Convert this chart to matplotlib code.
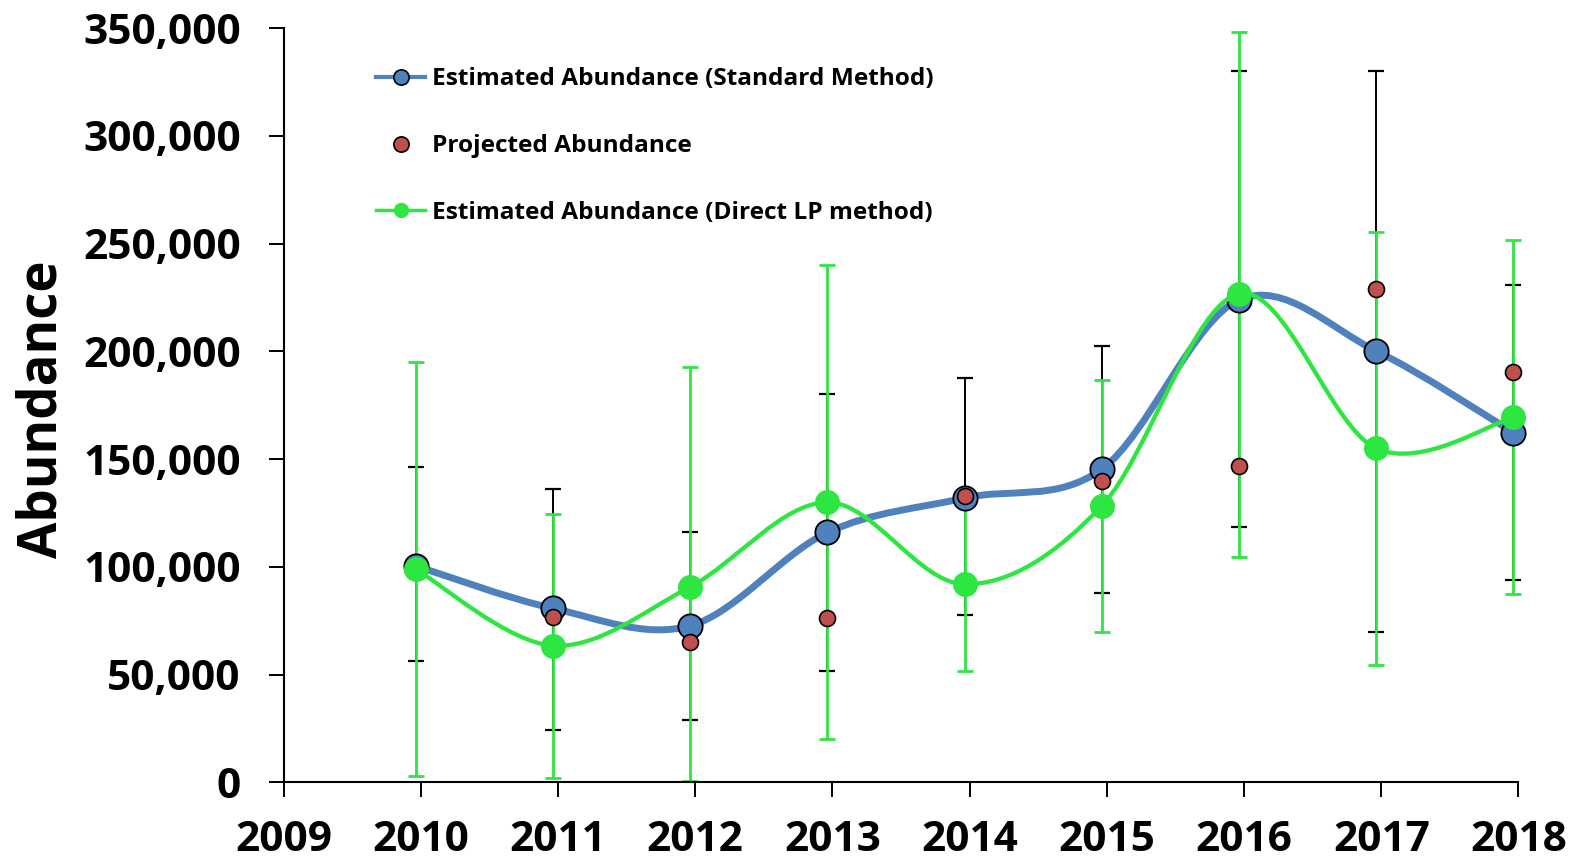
import numpy as np
import matplotlib
matplotlib.use("Agg")
import matplotlib.pyplot as plt
import matplotlib.transforms as mtransforms
from matplotlib.path import Path
from matplotlib.patches import PathPatch
from matplotlib.lines import Line2D
from matplotlib.ticker import FuncFormatter

plt.rcParams['font.family'] = ['Open Sans', 'DejaVu Sans']
plt.rcParams['font.weight'] = 'bold'

# data
years = [2010, 2011, 2012, 2013, 2014, 2015, 2016, 2017, 2018]
std_est = [100500, 80800, 72700, 116000, 132000, 145400, 224000, 200200, 162400]
std_hi = [146200, 136400, 116300, 180200, 187500, 202600, 330000, 330000, 231000]
std_lo = [56400, 24500, 29100, 51900, 77700, 87700, 118500, 70000, 93800]

proj_years = [2011, 2012, 2013, 2014, 2015, 2016, 2017, 2018]
proj_est = [76900, 65000, 76400, 133000, 139800, 147000, 229100, 190400]

lp_est = [99000, 63500, 90800, 130000, 92000, 128400, 226800, 155000, 169400]
lp_hi = [195300, 124700, 192600, 240000, 131000, 186800, 348200, 255300, 251600]
lp_lo = [3000, 1900, 500, 20000, 51700, 69700, 104500, 54600, 87300]

x_ticks = list(range(2009, 2019))
y_ticks = list(range(0, 350001, 50000))

BLUE = '#4F81BD'
RED = '#C0504D'
GREEN = '#2EE641'


def smooth_path(xs, ys):
    """Excel-like smoothed line: Catmull-Rom segments as cubic beziers"""
    pts = np.column_stack([xs, ys]).astype(float)
    n = len(pts)
    verts = [pts[0]]
    codes = [Path.MOVETO]
    for i in range(n - 1):
        p0 = pts[i - 1] if i > 0 else pts[i]
        p1 = pts[i]
        p2 = pts[i + 1]
        p3 = pts[i + 2] if i + 2 < n else pts[i + 1]
        c1 = p1 + (p2 - p0) / 6.0
        c2 = p2 - (p3 - p1) / 6.0
        verts += [c1, c2, p2]
        codes += [Path.CURVE4] * 3
    return Path(verts, codes)


fig = plt.figure(figsize=(15.77, 8.63), dpi=100)
ax = fig.add_axes([0.1798, 0.0933, 0.7831, 0.874])

# the data marks sit a few pixels left of the ticks, as in the original
shift = ax.transData + mtransforms.ScaledTranslation(-0.05, 0, fig.dpi_scale_trans)

# error bars
std_err = [np.array(std_est) - np.array(std_lo), np.array(std_hi) - np.array(std_est)]
eb1 = ax.errorbar(years, std_est, yerr=std_err, fmt='none', ecolor='black',
                  elinewidth=1.4, capsize=6, capthick=1.6, zorder=1, clip_on=False)
lp_err = [np.array(lp_est) - np.array(lp_lo), np.array(lp_hi) - np.array(lp_est)]
eb2 = ax.errorbar(years, lp_est, yerr=lp_err, fmt='none', ecolor=GREEN,
                  elinewidth=2.0, capsize=6, capthick=2.0, zorder=2, clip_on=False)
for eb in (eb1, eb2):
    for art in list(eb.lines[1]) + list(eb.lines[2]):
        art.set_transform(shift)

# standard method
ax.add_patch(PathPatch(smooth_path(years, std_est), facecolor='none',
                       edgecolor=BLUE, lw=5, zorder=3, capstyle='round',
                       transform=shift))
ax.plot(years, std_est, 'o', ms=17.5, mfc=BLUE, mec='black', mew=1.3,
        zorder=4, clip_on=False, transform=shift)

# projected
ax.plot(proj_years, proj_est, 'o', ms=11.5, mfc=RED, mec='black', mew=1.2,
        zorder=5, clip_on=False, transform=shift)

# direct LP method
ax.add_patch(PathPatch(smooth_path(years, lp_est), facecolor='none',
                       edgecolor=GREEN, lw=3.1, zorder=6, transform=shift))
ax.plot(years, lp_est, 'o', ms=18, mfc=GREEN, mec=GREEN, mew=0,
        zorder=7, clip_on=False, transform=shift)

ax.set_xlim(2009, 2018)
ax.set_ylim(0, 350000)
ax.set_xticks(x_ticks)
ax.set_yticks(y_ticks)
ax.yaxis.set_major_formatter(FuncFormatter(lambda v, p: f"{int(v):,}"))

for s in ['top', 'right']:
    ax.spines[s].set_visible(False)
for s in ['left', 'bottom']:
    ax.spines[s].set_linewidth(1.5)

ax.tick_params(axis='both', direction='out', length=10.8, width=1.4,
               labelsize=30.5)
ax.tick_params(axis='y', pad=20)
ax.tick_params(axis='x', pad=16)
for lbl in ax.get_xticklabels() + ax.get_yticklabels():
    lbl.set_fontweight('bold')

ax.set_ylabel('Abundance', fontsize=38, fontweight='bold')
ax.yaxis.set_label_coords(-0.173, 0.495)

handles = [
    Line2D([], [], color=BLUE, lw=3, marker='o', ms=11, mfc=BLUE, mec='black', mew=1.2),
    Line2D([], [], color='none', lw=0, marker='o', ms=11, mfc=RED, mec='black', mew=1.2),
    Line2D([], [], color=GREEN, lw=2.5, marker='o', ms=11, mfc=GREEN, mec=GREEN, mew=0),
]
labels = ['Estimated Abundance (Standard Method)', 'Projected Abundance',
          'Estimated Abundance (Direct LP method)']
ax.legend(handles, labels, loc='upper left', bbox_to_anchor=(0.075, 0.948),
          frameon=False, handlelength=2.0, handletextpad=0.3,
          labelspacing=1.75, borderpad=0, borderaxespad=0,
          prop={'weight': 'bold', 'size': 17.6})

fig.savefig('out.png', dpi=100)
